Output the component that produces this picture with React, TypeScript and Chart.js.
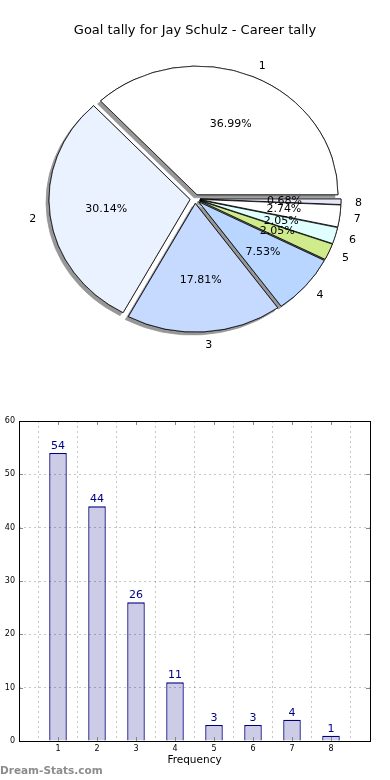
import React, { useEffect, useRef } from 'react';
import { Chart, registerables } from 'chart.js';

Chart.register(...registerables);

const TITLE = 'Goal tally for Jay Schulz - Career tally';
const X_TITLE = 'Frequency';
const WATERMARK = 'Dream-Stats.com';

// goals per game (category) and how many games
const categories = ['1', '2', '3', '4', '5', '6', '7', '8'];
const goalValues = [1, 2, 3, 4, 5, 6, 7, 8];
const frequencies = [54, 44, 26, 11, 3, 3, 4, 1];
const sliceColors = ['#ffffff', '#eaf1ff', '#c6d9ff', '#b8d6ff', '#d0eb8c', '#e0ffff', '#ffffff', '#e6e8fa'];
const yTicks = [0, 10, 20, 30, 40, 50, 60];

const FONT = 'DejaVu Sans';
const SCALE_Y = 0.912;
const EXPLODE = 5;

const piePlugin = {
  id: 'pieDecor',
  beforeDatasetsDraw(chart: any) {
    const arcs = chart.getDatasetMeta(0).data;
    if (!arcs.length) return;
    const ctx = chart.ctx;
    const cx = arcs[0].x;
    const cy = arcs[0].y;
    ctx.save();
    ctx.translate(cx, cy);
    ctx.scale(1, SCALE_Y);
    ctx.translate(-cx, -cy);
    for (let pass = 0; pass < 2; pass++) {
      for (const arc of arcs) {
        const mid = (arc.startAngle + arc.endAngle) / 2;
        ctx.save();
        ctx.translate(Math.cos(mid) * EXPLODE, Math.sin(mid) * EXPLODE);
        if (pass === 0) {
          ctx.shadowColor = '#979797';
          ctx.shadowBlur = 0;
          ctx.shadowOffsetX = -3;
          ctx.shadowOffsetY = 3;
        }
        arc.draw(ctx);
        ctx.restore();
      }
    }
    ctx.restore();
    return false;
  },
  afterDraw(chart: any) {
    const arcs = chart.getDatasetMeta(0).data;
    const ds = chart.data.datasets[0].data as number[];
    const labels = chart.data.labels as string[];
    const total = ds.reduce((a, b) => a + b, 0);
    const ctx = chart.ctx;
    ctx.save();
    ctx.font = `11px "${FONT}"`;
    ctx.fillStyle = '#000';
    ctx.textBaseline = 'middle';
    arcs.forEach((arc: any, i: number) => {
      const mid = (arc.startAngle + arc.endAngle) / 2;
      const R = arc.outerRadius;
      const c = Math.cos(mid);
      const s = Math.sin(mid);
      const rp = EXPLODE + 0.6 * R;
      ctx.textAlign = 'center';
      ctx.fillText(((ds[i] / total) * 100).toFixed(2) + '%', arc.x + c * rp, arc.y + s * rp * SCALE_Y);
      const rl = EXPLODE + 1.1 * R;
      ctx.textAlign = c >= 0 ? 'left' : 'right';
      ctx.fillText(labels[i], arc.x + c * rl, arc.y + s * rl * SCALE_Y + 1);
    });
    ctx.restore();
  },
};

const barPlugin = {
  id: 'barDecor',
  afterDatasetsDraw(chart: any) {
    const ctx = chart.ctx;
    const bars = chart.getDatasetMeta(0).data;
    ctx.save();
    ctx.font = `11px "${FONT}"`;
    ctx.fillStyle = '#000080';
    ctx.textAlign = 'center';
    ctx.textBaseline = 'alphabetic';
    bars.forEach((bar: any, i: number) => {
      ctx.fillText(String(frequencies[i]), bar.x, bar.y - 4);
    });
    ctx.restore();
  },
  afterDraw(chart: any) {
    const ctx = chart.ctx;
    const { left, right, top, bottom } = chart.chartArea;
    const xs = chart.scales.x;
    const ys = chart.scales.y;
    ctx.save();
    ctx.strokeStyle = '#888';
    ctx.lineWidth = 1;
    ctx.beginPath();
    goalValues.forEach((v) => {
      const x = Math.round(xs.getPixelForValue(v)) + 0.5;
      ctx.moveTo(x, top);
      ctx.lineTo(x, top + 4);
      ctx.moveTo(x, bottom);
      ctx.lineTo(x, bottom - 4);
    });
    yTicks.forEach((v) => {
      const y = Math.round(ys.getPixelForValue(v)) + 0.5;
      ctx.moveTo(left, y);
      ctx.lineTo(left + 4, y);
      ctx.moveTo(right, y);
      ctx.lineTo(right - 4, y);
    });
    ctx.stroke();
    ctx.strokeStyle = '#000';
    ctx.strokeRect(Math.round(left) + 0.5, Math.round(top) + 0.5, Math.round(right - left), Math.round(bottom - top));
    ctx.restore();
  },
};

export default function App() {
  const pieRef = useRef<HTMLCanvasElement>(null);
  const barRef = useRef<HTMLCanvasElement>(null);

  useEffect(() => {
    Chart.defaults.font.family = FONT;
    const pieLabels = [...categories].reverse();
    const pieValues = [...frequencies].reverse();
    const pieColors = [...sliceColors].reverse();

    const pie = new Chart(pieRef.current!, {
      type: 'pie',
      data: {
        labels: pieLabels,
        datasets: [
          {
            data: pieValues,
            backgroundColor: pieColors,
            borderColor: '#000',
            borderWidth: 0.8,
          },
        ],
      },
      options: {
        animation: false,
        responsive: false,
        maintainAspectRatio: false,
        radius: 141,
        rotation: 90,
        events: [],
        layout: { padding: { top: 0, left: 0, right: 0, bottom: 40.8 } },
        plugins: {
          legend: { display: false },
          tooltip: { enabled: false },
          title: {
            display: true,
            text: TITLE,
            color: '#000',
            font: { family: FONT, size: 13, weight: 'normal' },
            padding: { top: 23, bottom: 0 },
          },
        },
      } as any,
      plugins: [piePlugin],
    });

    const bar = new Chart(barRef.current!, {
      type: 'bar',
      data: {
        datasets: [
          {
            data: goalValues.map((x, i) => ({ x, y: frequencies[i] })),
            backgroundColor: '#cccce6',
            borderColor: '#000080',
            borderWidth: 1.3,
            barPercentage: 0.45,
            categoryPercentage: 1,
          },
        ],
      },
      options: {
        animation: false,
        responsive: false,
        maintainAspectRatio: false,
        events: [],
        layout: { padding: { top: 21, right: 20, left: 0, bottom: 0 } },
        plugins: { legend: { display: false }, tooltip: { enabled: false } },
        scales: {
          x: {
            type: 'linear',
            min: 0,
            max: 9,
            offset: false,
            afterFit: (s: any) => {
              s.height = 39;
            },
            ticks: {
              stepSize: 1,
              autoSkip: false,
              maxRotation: 0,
              padding: 3,
              color: '#000',
              font: { family: FONT, size: 8 },
              callback: (v: any) => (goalValues.includes(v) ? categories[goalValues.indexOf(v)] : ''),
            },
            grid: { color: 'rgba(0,0,0,0.22)', drawTicks: false, z: 1 },
            border: { display: false, dash: [2, 3] },
            title: {
              display: true,
              text: X_TITLE,
              color: '#000',
              font: { family: FONT, size: 10.5 },
              padding: { top: 0, bottom: 13.5 },
            },
          },
          y: {
            min: 0,
            max: 60,
            afterFit: (s: any) => {
              s.width = 19;
            },
            afterBuildTicks: (s: any) => {
              s.ticks = yTicks.map((v) => ({ value: v }));
            },
            ticks: {
              padding: 4,
              color: '#000',
              font: { family: FONT, size: 8 },
            },
            grid: { color: 'rgba(0,0,0,0.22)', drawTicks: false, z: 1 },
            border: { display: false, dash: [2, 3] },
          },
        },
      } as any,
      plugins: [barPlugin],
    });

    return () => {
      pie.destroy();
      bar.destroy();
    };
  }, []);

  return (
    <div style={{ position: 'absolute', left: 0, top: 0, width: 390, height: 780, background: '#fff', overflow: 'hidden' }}>
      <canvas ref={pieRef} width={390} height={400} style={{ position: 'absolute', left: 0, top: 0, width: 390, height: 400 }} />
      <canvas ref={barRef} width={390} height={380} style={{ position: 'absolute', left: 0, top: 400, width: 390, height: 380 }} />
      <div
        style={{
          position: 'absolute',
          left: 0,
          top: 763,
          height: 14,
          lineHeight: '14px',
          fontFamily: FONT,
          fontWeight: 'bold',
          fontSize: 10.5,
          color: '#8c8c8c',
          whiteSpace: 'nowrap',
        }}
      >
        {WATERMARK}
      </div>
    </div>
  );
}
